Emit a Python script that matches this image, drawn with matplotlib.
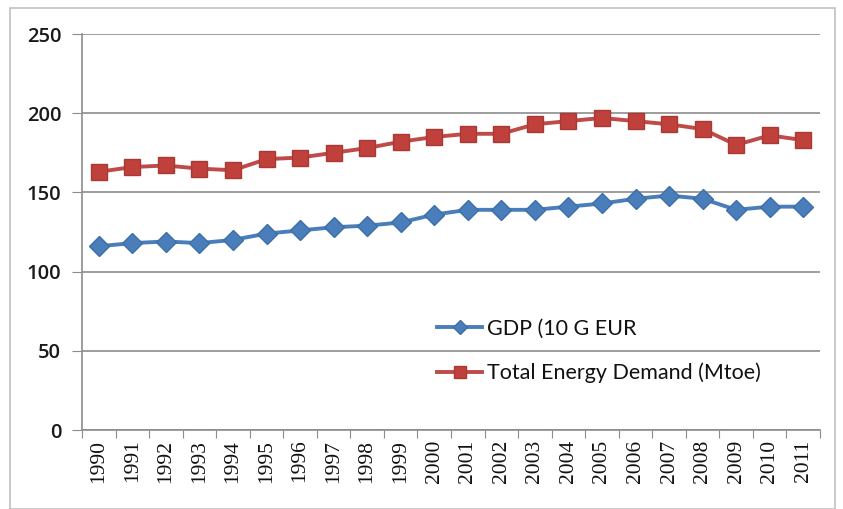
import matplotlib.pyplot as plt
from matplotlib.patches import Rectangle

years = [str(y) for y in range(1990, 2012)]
gdp = [116, 118, 119, 118, 120, 124, 126, 128, 129, 131, 136,
       139, 139, 139, 141, 143, 146, 148, 146, 139, 141, 141]
energy = [163, 166, 167, 165, 164, 171, 172, 175, 178, 182, 185,
          187, 187, 193, 195, 197, 195, 193, 190, 180, 186, 183]
yticks = [0, 50, 100, 150, 200, 250]

W, H = 843, 509
fig = plt.figure(figsize=(W / 100, H / 100), dpi=100)
ax = fig.add_axes([82 / W, 1 - 430 / H, (820 - 82) / W, (430 - 34) / H])

# thin grey frame around the whole chart
fig.patches.append(Rectangle((10 / W, 0), (835 - 10) / W, 1 - 8 / H,
                             transform=fig.transFigure, fill=False,
                             edgecolor='#c0c0c0', linewidth=1.2))

x = list(range(len(years)))
ax.plot(x, gdp, color='#4a7ebb', linewidth=2.8, marker='D', markersize=10,
        markerfacecolor='#4a7ebb', markeredgecolor='#3d6fa8', label='GDP (10 G EUR')
ax.plot(x, energy, color='#be4b48', linewidth=2.8, marker='s', markersize=12,
        markerfacecolor='#c0403c', markeredgecolor='#a83a36', label='Total Energy Demand (Mtoe)')

ax.set_xlim(-0.5, len(years) - 0.5)
ax.set_ylim(0, 250)
ax.set_yticks(yticks)
ax.set_yticklabels([str(v) for v in yticks], fontfamily='Open Sans', fontsize=14.5,
                   fontweight='semibold', color='#1a1a1a')
ax.yaxis.grid(True, color='#8c8c8c', linewidth=1.2)
ax.set_axisbelow(True)

# category ticks sit between categories, labels in the middle
ax.set_xticks([i - 0.5 for i in range(len(years) + 1)])
ax.set_xticklabels([])
ax.set_xticks(x, minor=True)
ax.set_xticklabels(years, minor=True, rotation=90, fontfamily='Liberation Serif',
                   fontsize=15.5, color='#111111')
ax.tick_params(axis='x', which='minor', length=0, pad=7)
ax.tick_params(axis='x', which='major', length=6, color='#8c8c8c')
ax.tick_params(axis='y', length=7, color='#8c8c8c', pad=8)

for s in ['top', 'right']:
    ax.spines[s].set_visible(False)
for s in ['left', 'bottom']:
    ax.spines[s].set_color('#8c8c8c')
    ax.spines[s].set_linewidth(1.2)

leg = ax.legend(loc='upper left', bbox_to_anchor=(437 / W, 1 - 319 / H),
                bbox_transform=fig.transFigure, frameon=False, borderpad=0,
                borderaxespad=0, handlelength=2.1, handletextpad=0.2,
                labelspacing=1.1, markerscale=0.75,
                prop={'family': 'Lato', 'size': 15.5})
for t in leg.get_texts():
    t.set_color('#111111')

fig.savefig('out.png', dpi=100)
